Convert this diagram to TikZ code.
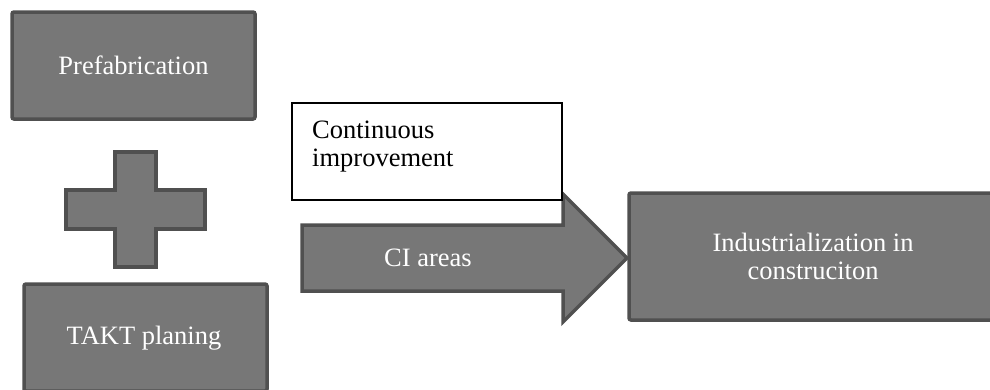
\documentclass[tikz,border=0pt]{standalone}
\usepackage{fontspec}
\setmainfont{Liberation Serif}
\definecolor{boxfill}{HTML}{777777}
\definecolor{boxline}{HTML}{505050}
\tikzset{
  graybox/.style={draw=boxline, fill=boxfill, line width=3.5pt, rounded corners=2pt, inner sep=0pt, text=white, align=center, font=\fontsize{26.5}{29}\selectfont},
  whitebox/.style={draw=black, fill=white, line width=1.3pt, inner sep=0pt},
  shapestyle/.style={draw=boxline, fill=boxfill, line width=3.5pt, line join=miter},
  lbl/.style={font=\fontsize{26.5}{28}\selectfont, inner sep=0pt}
}
\begin{document}
\begin{tikzpicture}[x=1pt,y=-1pt]
\useasboundingbox (0,0) rectangle (990,389);
\clip (0,0) rectangle (990,389);
% Prefabrication
\node[graybox, minimum width=243pt, minimum height=107pt] (prefab) at (133.5,65.5) {Prefabrication};
% plus sign
\draw[shapestyle] (115,152) -- (156,152) -- (156,190) -- (205,190) -- (205,229) -- (156,229) -- (156,267) -- (115,267) -- (115,229) -- (66,229) -- (66,190) -- (115,190) -- cycle;
\coordinate (plus) at (135.5,209.5);
% TAKT planing
\node[graybox, minimum width=243pt, minimum height=107pt] (takt) at (145.5,337.5) {};
\node[lbl, text=white] (taktlbl) at (144,338) {TAKT planing};
% Arrow
\draw[shapestyle] (302,225) -- (563,225) -- (563,194) -- (627,258) -- (563,322) -- (563,291) -- (302,291) -- cycle;
\node[lbl, text=white] (ci) at (428,258) {CI areas};
% Continuous improvement box
\node[whitebox, minimum width=270pt, minimum height=97pt] (cibox) at (427,151.5) {};
\node[lbl, anchor=base west, align=left] (citext) at (312,166) {Continuous\\improvement};
% Industrialization box
\node[graybox, minimum width=371pt, minimum height=127pt] (ind) at (814.5,256.5) {};
\node[lbl, text=white, align=center] (indlbl) at (813,256) {Industrialization in\\construciton};
\end{tikzpicture}
\end{document}
